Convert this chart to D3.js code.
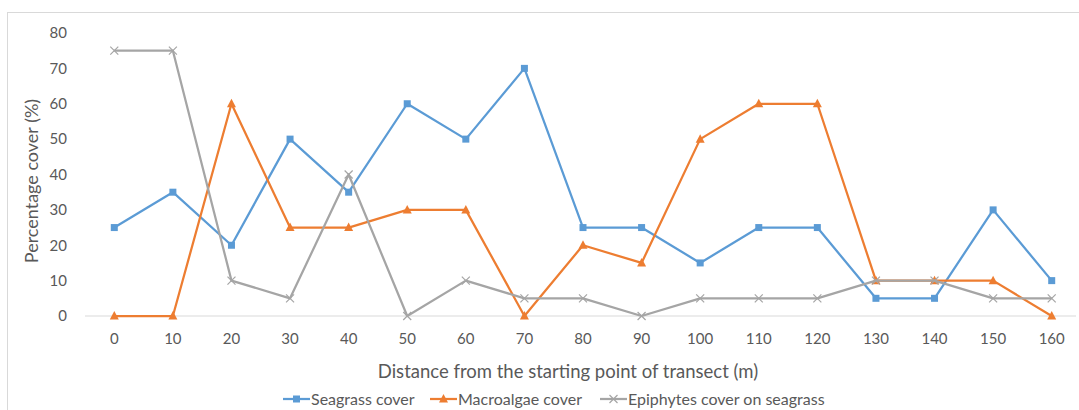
<!DOCTYPE html>
<html>
<head>
<meta charset="utf-8">
<script src="https://cdn.jsdelivr.net/npm/d3@7"></script>
<style>
  body { margin: 0; background: #fff; }
  text { font-family: Lato, "Open Sans", sans-serif; fill: #595959; }
</style>
</head>
<body>
<svg id="chart" width="1079" height="410"></svg>
<script>
// Chart data
const distances = [0, 10, 20, 30, 40, 50, 60, 70, 80, 90, 100, 110, 120, 130, 140, 150, 160];
const seagrass = [25, 35, 20, 50, 35, 60, 50, 70, 25, 25, 15, 25, 25, 5, 5, 30, 10];
const macroalgae = [0, 0, 60, 25, 25, 30, 30, 0, 20, 15, 50, 60, 60, 10, 10, 10, 0];
const epiphytes = [75, 75, 10, 5, 40, 0, 10, 5, 5, 0, 5, 5, 5, 10, 10, 5, 5];
const yTicks = [0, 10, 20, 30, 40, 50, 60, 70, 80];

const seriesList = [
  { name: "Seagrass cover", values: seagrass, color: "#5b9bd5", marker: "square" },
  { name: "Macroalgae cover", values: macroalgae, color: "#ed7d31", marker: "triangle" },
  { name: "Epiphytes cover on seagrass", values: epiphytes, color: "#a5a5a5", marker: "cross" }
];

const svg = d3.select("#chart");

// chart area border
svg.append("rect")
  .attr("x", 7.5).attr("y", 12.5)
  .attr("width", 1090).attr("height", 420)
  .attr("fill", "none").attr("stroke", "#d9d9d9");

const plot = { left: 85, right: 1081, top: 33, bottom: 316 };

const x = d3.scalePoint()
  .domain(distances)
  .range([plot.left, plot.right])
  .padding(0.5);

const y = d3.scaleLinear()
  .domain([0, 80])
  .range([plot.bottom, plot.top]);

// baseline at 0
svg.append("line")
  .attr("x1", plot.left).attr("x2", 1076)
  .attr("y1", y(0)).attr("y2", y(0))
  .attr("stroke", "#d9d9d9").attr("stroke-width", 1);

// y tick labels
svg.append("g").selectAll("text")
  .data(yTicks)
  .join("text")
  .attr("x", 67)
  .attr("y", d => y(d))
  .attr("dy", "0.35em")
  .attr("text-anchor", "end")
  .attr("font-size", 15)
  .text(d => d);

// x tick labels
svg.append("g").selectAll("text")
  .data(distances)
  .join("text")
  .attr("x", d => x(d))
  .attr("y", 339)
  .attr("dy", "0.35em")
  .attr("text-anchor", "middle")
  .attr("font-size", 15)
  .text(d => d);

// axis titles
svg.append("text")
  .attr("x", 568).attr("y", 372)
  .attr("dy", "0.35em")
  .attr("text-anchor", "middle")
  .attr("font-size", 18.5)
  .text("Distance from the starting point of transect (m)");

svg.append("text")
  .attr("transform", "translate(32,181) rotate(-90)")
  .attr("dy", "0.35em")
  .attr("text-anchor", "middle")
  .attr("font-size", 18)
  .text("Percentage cover (%)");

function drawMarker(g, type, color, cx, cy) {
  if (type == "square") {
    g.append("rect")
      .attr("x", cx - 3.5).attr("y", cy - 3.5)
      .attr("width", 7).attr("height", 7)
      .attr("fill", color);
  } else if (type == "triangle") {
    g.append("path")
      .attr("d", `M${cx},${cy - 5}L${cx + 4.5},${cy + 3.5}L${cx - 4.5},${cy + 3.5}Z`)
      .attr("fill", color);
  } else {
    g.append("path")
      .attr("d", `M${cx - 4},${cy - 4}L${cx + 4},${cy + 4}M${cx + 4},${cy - 4}L${cx - 4},${cy + 4}`)
      .attr("stroke", color).attr("stroke-width", 1.2).attr("fill", "none");
  }
}

const line = d3.line()
  .x((d, i) => x(distances[i]))
  .y(d => y(d));

seriesList.forEach(s => {
  const g = svg.append("g");
  g.append("path")
    .datum(s.values)
    .attr("d", line)
    .attr("fill", "none")
    .attr("stroke", s.color)
    .attr("stroke-width", 2.25)
    .attr("stroke-linejoin", "round");
  s.values.forEach((v, i) => drawMarker(g, s.marker, s.color, x(distances[i]), y(v)));
});

// legend
const legendX = [283, 430, 600];
seriesList.forEach((s, i) => {
  const g = svg.append("g");
  const lx = legendX[i];
  const ly = 399;
  g.append("line")
    .attr("x1", lx).attr("x2", lx + 27)
    .attr("y1", ly).attr("y2", ly)
    .attr("stroke", s.color).attr("stroke-width", 2.25);
  drawMarker(g, s.marker, s.color, lx + 13.5, ly);
  g.append("text")
    .attr("x", lx + 28).attr("y", ly)
    .attr("dy", "0.35em")
    .attr("font-size", 16)
    .text(s.name);
});
</script>
</body>
</html>
